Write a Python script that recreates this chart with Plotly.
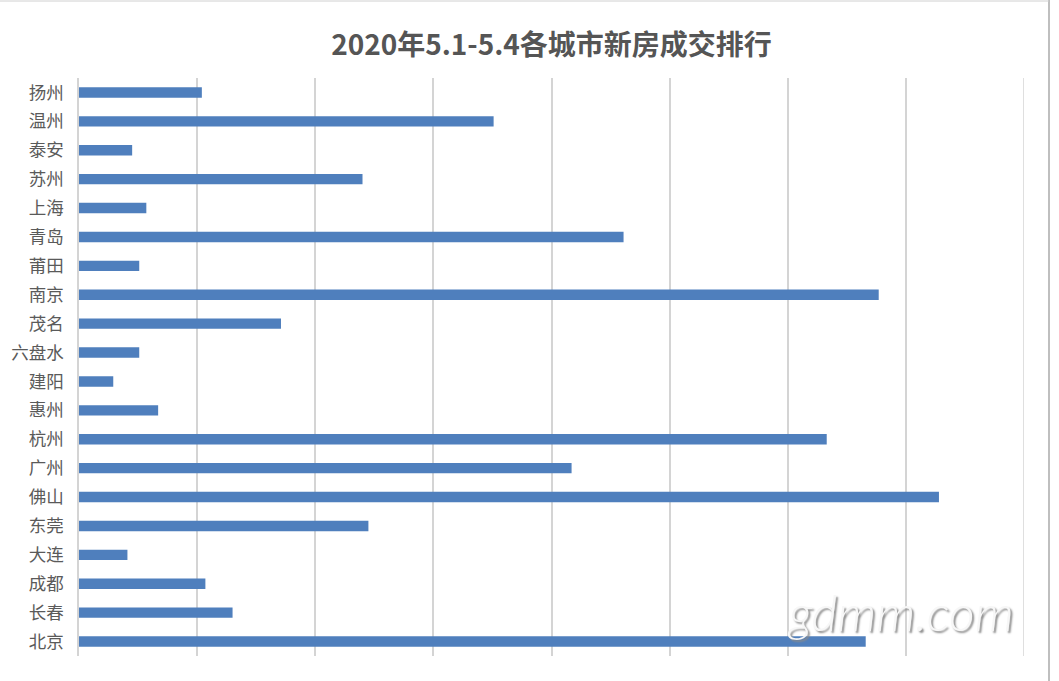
import plotly.graph_objects as go

# 各城市新房成交（5.1-5.4）
cities = ["扬州", "温州", "泰安", "苏州", "上海", "青岛", "莆田", "南京", "茂名", "六盘水",
          "建阳", "惠州", "杭州", "广州", "佛山", "东莞", "大连", "成都", "长春", "北京"]
deals = [1040, 3510, 450, 2400, 570, 4610, 510, 6770, 1710, 510,
         290, 670, 6330, 4170, 7280, 2450, 410, 1070, 1300, 6660]
x_max = 8000

W, H = 1059, 681
L, R, T, B = 79, 35, 78, 25

fig = go.Figure(go.Bar(
    x=deals, y=cities, orientation="h",
    marker=dict(color="#4f7fbd", line=dict(width=0)),
    width=0.36,
))

fig.update_layout(
    width=W, height=H,
    margin=dict(l=L, r=R, t=T, b=B),
    paper_bgcolor="white", plot_bgcolor="white",
    showlegend=False,
    title=dict(
        text="<b>2020年5.1-5.4各城市新房成交排行</b>",
        x=0.5, xref="paper", xanchor="center",
        y=1 - 45 / H, yref="container", yanchor="middle",
        font=dict(family="Noto Sans CJK SC", size=28, color="#555555"),
    ),
    xaxis=dict(
        range=[0, x_max], dtick=1000, showticklabels=False,
        showgrid=True, gridcolor="#d4d4d4", gridwidth=1.5,
        zeroline=False, showline=False, fixedrange=True, automargin=False,
    ),
    yaxis=dict(
        autorange="reversed", showgrid=False, zeroline=False,
        showline=True, linecolor="#d4d4d4", linewidth=1.5,
        ticks="", ticklabelstandoff=10, automargin=False,
        tickfont=dict(family="Noto Sans CJK SC", size=17.5, color="#5a5a5a"),
    ),
)

# 最右侧网格线
fig.add_shape(type="line", xref="x", yref="paper", x0=x_max, x1=x_max, y0=0, y1=1,
              line=dict(color="#d4d4d4", width=1.5), layer="below")

# 右侧边框与表格线
px_x = lambda p: (p - L) / (W - L - R)
fig.add_shape(type="line", xref="paper", yref="paper",
              x0=px_x(1049), x1=px_x(1049), y0=-B / (H - T - B), y1=1 + T / (H - T - B),
              line=dict(color="#bfbfbf", width=2))
fig.add_shape(type="line", xref="paper", yref="paper",
              x0=px_x(0), x1=px_x(1049), y0=1 + (T - 1) / (H - T - B), y1=1 + (T - 1) / (H - T - B),
              line=dict(color="#d0d0d0", width=1))

# 水印
fig.add_annotation(
    text="gdmm.com", xref="paper", yref="paper",
    x=px_x(900), y=(H - B - 612) / (H - T - B),
    xanchor="center", yanchor="middle", showarrow=False,
    font=dict(family="Lato", size=50, color="#f7f7f7", style="italic", weight=300,
              shadow="2px 2px 2px #8a8a8a"),
)

fig.write_html("out.html")
